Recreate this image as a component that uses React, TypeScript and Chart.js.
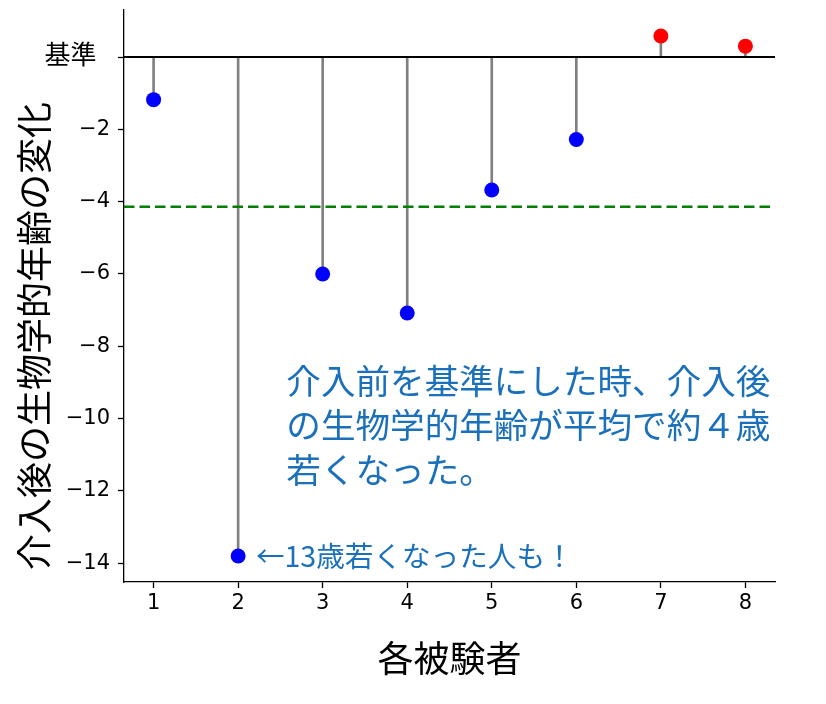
import { useEffect, useRef } from "react"
import { Chart, registerables, type Plugin } from "chart.js"

Chart.register(...registerables)

// subjects and change in biological age after the intervention (years)
const subjects = [1, 2, 3, 4, 5, 6, 7, 8]
const ageChange = [-1.18, -13.8, -6.0, -7.08, -3.68, -2.28, 0.58, 0.3]

const yTicks = [0, -2, -4, -6, -8, -10, -12, -14]
const yTickLabels = ["基準 \u2009", "−2", "−4", "−6", "−8", "−10", "−12", "−14"]

const yTitle = "介入後の生物学的年齢の変化"
const xTitle = "各被験者"
const mainNote = ["介入前を基準にした時、介入後", "の生物学的年齢が平均で約４歳", "若くなった。"]
const subNote = "←13歳若くなった人も！"

const meanChange = ageChange.reduce((a, b) => a + b, 0) / ageChange.length

const TICK_FONT = "'DejaVu Sans', 'Noto Sans CJK JP', sans-serif"
const JP_FONT = "'Noto Sans CJK JP', sans-serif"
const NOTE_COLOR = "#1a70ba"

const overlay: Plugin<"scatter"> = {
  id: "overlay",
  afterDatasetsDraw(chart) {
    const { ctx, chartArea, scales } = chart
    const x = scales.x
    const y = scales.y
    ctx.save()

    // baseline at 0
    ctx.strokeStyle = "#000"
    ctx.lineWidth = 2
    ctx.beginPath()
    ctx.moveTo(chartArea.left, y.getPixelForValue(0))
    ctx.lineTo(chartArea.right, y.getPixelForValue(0))
    ctx.stroke()

    // mean line
    ctx.strokeStyle = "#008000"
    ctx.lineWidth = 2.6
    ctx.setLineDash([10.5, 5])
    ctx.beginPath()
    ctx.moveTo(chartArea.left, y.getPixelForValue(meanChange))
    ctx.lineTo(chartArea.right - 2, y.getPixelForValue(meanChange))
    ctx.stroke()
    ctx.setLineDash([])

    // notes
    ctx.fillStyle = NOTE_COLOR
    ctx.textAlign = "left"
    ctx.textBaseline = "middle"
    ctx.font = `34.6px ${JP_FONT}`
    mainNote.forEach((line, i) => {
      ctx.fillText(line, x.getPixelForValue(2.57), y.getPixelForValue(-8.95) + i * 44.5)
    })
    ctx.font = `28.6px ${JP_FONT}`
    ctx.fillText(subNote, x.getPixelForValue(2.21), y.getPixelForValue(-13.8))

    // y axis title
    ctx.fillStyle = "#000"
    ctx.font = `36px ${JP_FONT}`
    ctx.textAlign = "center"
    ctx.translate(34, (chartArea.top + chartArea.bottom) / 2 + 40)
    ctx.rotate(-Math.PI / 2)
    ctx.fillText(yTitle, 0, 0)

    ctx.restore()
  },
}

export default function App() {
  const canvasRef = useRef<HTMLCanvasElement>(null)
  const chartRef = useRef<Chart | null>(null)

  useEffect(() => {
    if (!canvasRef.current) return
    if (chartRef.current) chartRef.current.destroy()

    chartRef.current = new Chart(canvasRef.current, {
      type: "scatter",
      data: {
        datasets: [
          {
            type: "scatter",
            data: subjects.map((s, i) => ({ x: s, y: ageChange[i] })),
            pointRadius: 7.5,
            pointBorderWidth: 0,
            pointBackgroundColor: ageChange.map((v) => (v < 0 ? "#0000ff" : "#ff0000")),
          },
          {
            type: "bar",
            data: subjects.map((s, i) => ({ x: s, y: [0, ageChange[i]] })) as any,
            backgroundColor: "#808080",
            borderWidth: 0,
            barThickness: 2,
          } as any,
        ],
      },
      options: {
        responsive: false,
        animation: false,
        layout: { padding: { top: 10, right: 51, left: 0, bottom: 0 } },
        plugins: {
          legend: { display: false },
          tooltip: { enabled: false },
        },
        scales: {
          x: {
            type: "linear",
            min: 0.65,
            max: 8.35,
            offset: false,
            afterBuildTicks: (scale) => {
              scale.ticks = subjects.map((v) => ({ value: v }))
            },
            afterFit: (scale: any) => {
              scale.height = 122
              scale.paddingLeft = 0
              scale.paddingRight = 0
            },
            ticks: {
              color: "#000",
              font: { family: TICK_FONT, size: 21 },
              padding: 3,
              callback: (v) => String(v),
            },
            grid: {
              offset: false,
              drawOnChartArea: false,
              drawTicks: true,
              tickLength: 6,
              tickColor: "#000",
              tickWidth: 1.3,
            },
            border: { display: true, color: "#000", width: 1.3 },
            title: {
              display: true,
              text: xTitle,
              color: "#000",
              font: { family: JP_FONT, size: 36, lineHeight: 1 },
              padding: { top: 0, bottom: 28 },
            },
          },
          y: {
            type: "linear",
            min: -14.52,
            max: 1.3,
            afterBuildTicks: (scale) => {
              scale.ticks = yTicks.map((v) => ({ value: v }))
            },
            afterFit: (scale: any) => {
              scale.width = 124
              scale.paddingTop = 0
              scale.paddingBottom = 0
            },
            ticks: {
              color: "#000",
              padding: 8,
              font: (ctx: any) => ({
                family: TICK_FONT,
                size: ctx.tick && ctx.tick.value === 0 ? 26 : 21,
              }),
              callback: (v) => yTickLabels[yTicks.indexOf(Number(v))] ?? "",
            },
            grid: {
              offset: false,
              drawOnChartArea: false,
              drawTicks: true,
              tickLength: 6,
              tickColor: "#000",
              tickWidth: 1.3,
            },
            border: { display: true, color: "#000", width: 1.3 },
          },
        },
      },
      plugins: [overlay],
    })

    return () => {
      if (chartRef.current) {
        chartRef.current.destroy()
        chartRef.current = null
      }
    }
  }, [])

  return (
    <div style={{ position: "absolute", left: 0, top: 0, width: 826, height: 704, background: "#fff" }}>
      <canvas ref={canvasRef} width={826} height={704} style={{ display: "block" }} />
    </div>
  )
}
